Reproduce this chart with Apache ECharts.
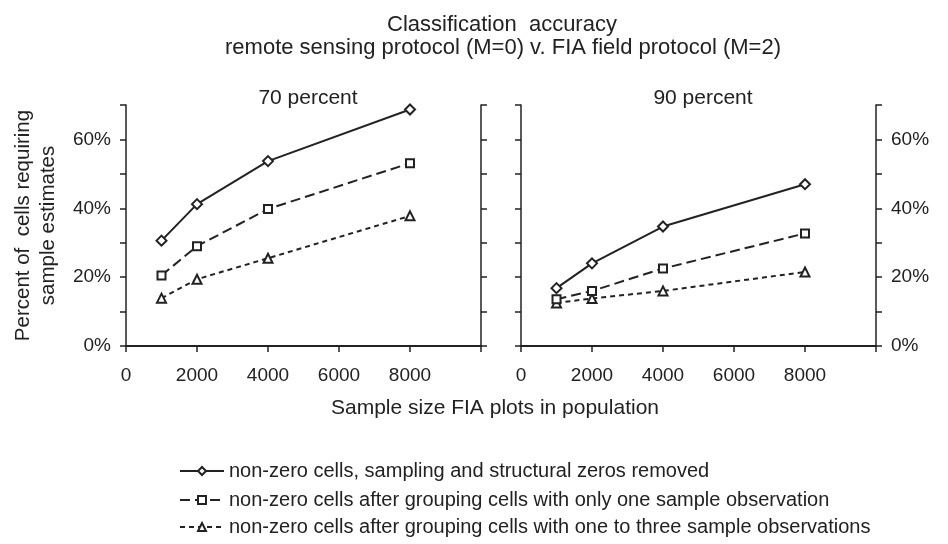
<!DOCTYPE html>
<html>
<head>
<meta charset="utf-8">
<script src="https://cdn.jsdelivr.net/npm/echarts@6/dist/echarts.min.js"></script>
<style>
  html, body { margin: 0; padding: 0; background: #fff; }
  #chart { width: 948px; height: 544px; }
</style>
</head>
<body>
<div id="chart"></div>
<script>
// sample sizes (FIA plots in population)
const sampleSizes = [1000, 2000, 4000, 8000];

// 70 percent classification accuracy
const acc70Removed = [30.6, 41.2, 53.7, 68.7];
const acc70OneObs = [20.5, 29.0, 39.8, 53.1];
const acc70ThreeObs = [13.9, 19.4, 25.5, 37.8];

// 90 percent classification accuracy
const acc90Removed = [16.8, 24.0, 34.7, 47.0];
const acc90OneObs = [13.6, 16.0, 22.5, 32.7];
const acc90ThreeObs = [12.5, 13.8, 16.0, 21.5];

const seriesNames = [
  'non-zero cells, sampling and structural zeros removed',
  'non-zero cells after grouping cells with only one sample observation',
  'non-zero cells after grouping cells with one to three sample observations'
];
const panelTitles = ['70 percent', '90 percent'];
const xTicks = [0, 2000, 4000, 6000, 8000];

const FONT = "'Liberation Sans', Arial, sans-serif";
const INK = '#222';

function pairs(ys) {
  return sampleSizes.map((x, i) => [x, ys[i]]);
}

// one line style per grouping rule
const styles = [
  { symbol: 'emptyDiamond', symbolSize: 10, type: 'solid' },
  { symbol: 'emptyRect', symbolSize: 8, type: [10, 5] },
  { symbol: 'emptyTriangle', symbolSize: 9, type: [5, 4] }
];

function makeSeries(grid, sets) {
  return sets.map((ys, k) => ({
    name: seriesNames[k],
    type: 'line',
    xAxisIndex: grid,
    yAxisIndex: grid * 2,
    data: pairs(ys),
    symbol: styles[k].symbol,
    symbolSize: styles[k].symbolSize,
    color: INK,
    itemStyle: { color: INK, borderWidth: 1.5 },
    lineStyle: { color: INK, width: 2, type: styles[k].type },
    z: 5 - k
  }));
}

function xAxis(grid) {
  return {
    type: 'value', gridIndex: grid, min: 0, max: 10000, interval: 2000,
    axisLine: { lineStyle: { color: INK, width: 2 } },
    axisTick: { length: 6, lineStyle: { color: INK, width: 1.5 } },
    axisLabel: {
      margin: 20, color: INK, fontFamily: FONT, fontSize: 19,
      formatter: v => (xTicks.indexOf(v) >= 0 ? String(v) : '')
    },
    splitLine: { show: false }
  };
}

function yAxis(grid, position, showLabels) {
  return {
    type: 'value', gridIndex: grid, position: position,
    min: 0, max: 70, interval: 10,
    axisLine: { show: true, onZero: false, lineStyle: { color: INK, width: 1.5 } },
    axisTick: { show: true, length: 6, lineStyle: { color: INK, width: 1.5 } },
    axisLabel: {
      show: showLabels, margin: 15, color: INK, fontFamily: FONT, fontSize: 19,
      formatter: v => (v % 20 === 0 ? v + '%' : '')
    },
    splitLine: { show: false }
  };
}

// one legend block per row so the rows stack under each other
const legendTops = [461, 490, 517];
const legends = seriesNames.map((name, k) => ({
  orient: 'vertical', left: 179, top: legendTops[k], padding: 0,
  itemWidth: 44, itemHeight: 10,
  data: [name],
  textStyle: { fontFamily: FONT, fontSize: 20, color: INK },
  inactiveColor: INK,
  selectedMode: false
}));

const chart = echarts.init(document.getElementById('chart'));

chart.setOption({
  backgroundColor: '#fff',
  animation: false,
  textStyle: { fontFamily: FONT },
  title: [
    {
      text: 'Classification  accuracy', left: 497, top: 9, textAlign: 'center',
      textStyle: { fontFamily: FONT, fontSize: 22, fontWeight: 'normal', color: INK }
    },
    {
      text: 'remote sensing protocol (M=0) v. FIA field protocol (M=2)', left: 498, top: 32, textAlign: 'center',
      textStyle: { fontFamily: FONT, fontSize: 22, fontWeight: 'normal', color: INK }
    },
    {
      text: panelTitles[0], left: 303, top: 83, textAlign: 'center',
      textStyle: { fontFamily: FONT, fontSize: 21, fontWeight: 'normal', color: INK }
    },
    {
      text: panelTitles[1], left: 698, top: 83, textAlign: 'center',
      textStyle: { fontFamily: FONT, fontSize: 21, fontWeight: 'normal', color: INK }
    }
  ],
  grid: [
    { left: 126, top: 105, width: 355, height: 241, outerBoundsMode: 'none' },
    { left: 521, top: 105, width: 355, height: 241, outerBoundsMode: 'none' }
  ],
  xAxis: [xAxis(0), xAxis(1)],
  yAxis: [
    Object.assign(yAxis(0, 'left', true), {
      name: 'Percent of  cells requiring\nsample estimates',
      nameLocation: 'middle', nameRotate: 90, nameGap: 65,
      nameTextStyle: { fontFamily: FONT, fontSize: 20.5, color: INK, lineHeight: 25 }
    }),
    yAxis(0, 'right', false),
    yAxis(1, 'left', false),
    yAxis(1, 'right', true)
  ],
  graphic: [
    {
      type: 'text', x: 495, y: 398,
      style: {
        text: 'Sample size FIA plots in population', align: 'center',
        font: "21px 'Liberation Sans', Arial, sans-serif", fill: INK
      }
    }
  ],
  legend: legends,
  series: [].concat(
    makeSeries(0, [acc70Removed, acc70OneObs, acc70ThreeObs]),
    makeSeries(1, [acc90Removed, acc90OneObs, acc90ThreeObs])
  )
});
</script>
</body>
</html>
